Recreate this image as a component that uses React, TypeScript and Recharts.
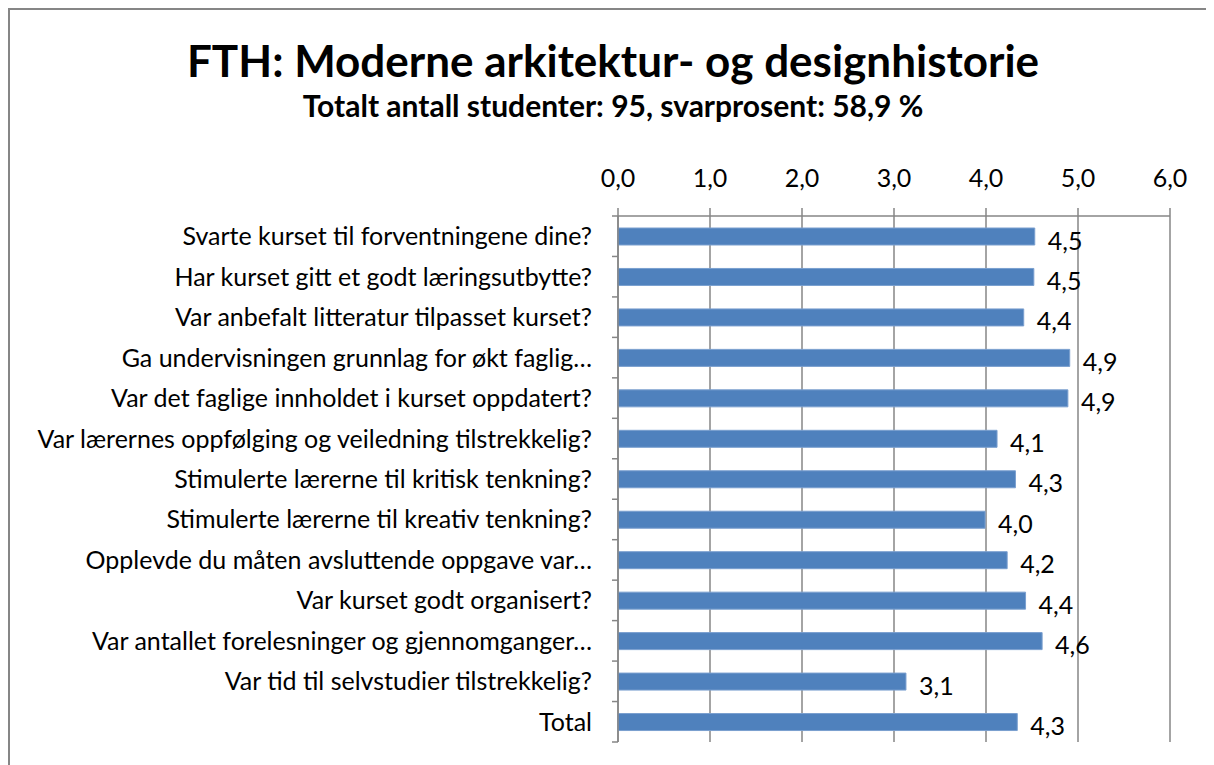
import { BarChart, Bar, XAxis, YAxis, CartesianGrid, LabelList } from "recharts";

const categories = [
  "Svarte kurset til forventningene dine?",
  "Har kurset gitt et godt læringsutbytte?",
  "Var anbefalt litteratur tilpasset kurset?",
  "Ga undervisningen grunnlag for økt faglig…",
  "Var det faglige innholdet i kurset oppdatert?",
  "Var lærernes oppfølging og veiledning tilstrekkelig?",
  "Stimulerte lærerne til kritisk tenkning?",
  "Stimulerte lærerne til kreativ tenkning?",
  "Opplevde du måten avsluttende oppgave var…",
  "Var kurset godt organisert?",
  "Var antallet forelesninger og gjennomganger…",
  "Var tid til selvstudier tilstrekkelig?",
  "Total",
];

const scores = [4.53, 4.52, 4.41, 4.91, 4.89, 4.12, 4.32, 3.99, 4.23, 4.43, 4.61, 3.13, 4.34];

const xTicks = [0, 1, 2, 3, 4, 5, 6];

const data = categories.map((name, i) => ({ name, score: scores[i] }));

const FONT = "Lato, 'Open Sans', sans-serif";
const GRID = "#868686";
const BAR = "#4F81BD";

const W = 1206;
const H = 757;
const AXIS_W = 610;
const AXIS_H = 208;
const MARGIN = { top: 0, right: 44, bottom: 23, left: 0 };
const band = (H - AXIS_H - MARGIN.bottom) / categories.length;

const comma = (v: number) => v.toFixed(1).replace(".", ",");

function CategoryTick(props: any) {
  const { x, y, payload, index } = props;
  const axisX = AXIS_W;
  const top = y - band / 2;
  return (
    <g>
      <line x1={axisX - 6} x2={axisX} y1={top} y2={top} stroke={GRID} strokeWidth={1.5} />
      {index === categories.length - 1 && (
        <line x1={axisX - 6} x2={axisX} y1={top + band} y2={top + band} stroke={GRID} strokeWidth={1.5} />
      )}
      <text x={x} y={y} dy="0.36em" textAnchor="end" fill="#000" fontSize={25} fontFamily={FONT}>
        {payload.value}
      </text>
    </g>
  );
}

function ValueLabel(props: any) {
  const { x, y, width, height, value } = props;
  return (
    <text x={x + width + 13} y={y + height / 2 + 4} dy="0.36em" fill="#000" fontSize={25} fontFamily={FONT}>
      {comma(Number(value))}
    </text>
  );
}

export default function App() {
  return (
    <div style={{ position: "relative", width: W, height: H, overflow: "hidden", fontFamily: FONT }}>
      <div
        style={{
          position: "absolute",
          left: 0,
          top: 0,
          width: W + 10,
          height: H + 10,
          borderLeft: `2px solid ${GRID}`,
          borderTop: `2px solid ${GRID}`,
        }}
      />
      <div
        style={{
          position: "absolute",
          left: 0,
          top: 26,
          width: 1210,
          textAlign: "center",
          fontWeight: 700,
          fontSize: 44,
          lineHeight: "52px",
          color: "#000",
          whiteSpace: "nowrap",
        }}
      >
        FTH: Moderne arkitektur- og designhistorie
      </div>
      <div
        style={{
          position: "absolute",
          left: 0,
          top: 79,
          width: 1210,
          textAlign: "center",
          fontWeight: 700,
          fontSize: 30,
          lineHeight: "36px",
          color: "#000",
          whiteSpace: "nowrap",
        }}
      >
        Totalt antall studenter: 95, svarprosent: 58,9 %
      </div>
      <div style={{ position: "absolute", left: 0, top: 0 }}>
        <BarChart width={W} height={H} data={data} layout="vertical" margin={MARGIN} barSize={17}>
          <CartesianGrid horizontal={false} stroke={GRID} strokeWidth={1.5} />
          <XAxis
            type="number"
            orientation="top"
            domain={[0, 6]}
            ticks={xTicks}
            interval={0}
            height={AXIS_H}
            tickFormatter={comma}
            tickSize={8}
            tickMargin={21}
            stroke={GRID}
            strokeWidth={1.5}
            tick={{ fill: "#000", fontSize: 25, fontFamily: FONT }}
          />
          <YAxis
            type="category"
            dataKey="name"
            width={AXIS_W}
            interval={0}
            tickLine={false}
            tickSize={6}
            tickMargin={20}
            stroke={GRID}
            strokeWidth={1.5}
            tick={<CategoryTick />}
          />
          <Bar dataKey="score" fill={BAR} stroke="#7a9fcf" strokeWidth={1} isAnimationActive={false}>
            <LabelList dataKey="score" content={<ValueLabel />} />
          </Bar>
        </BarChart>
      </div>
    </div>
  );
}
